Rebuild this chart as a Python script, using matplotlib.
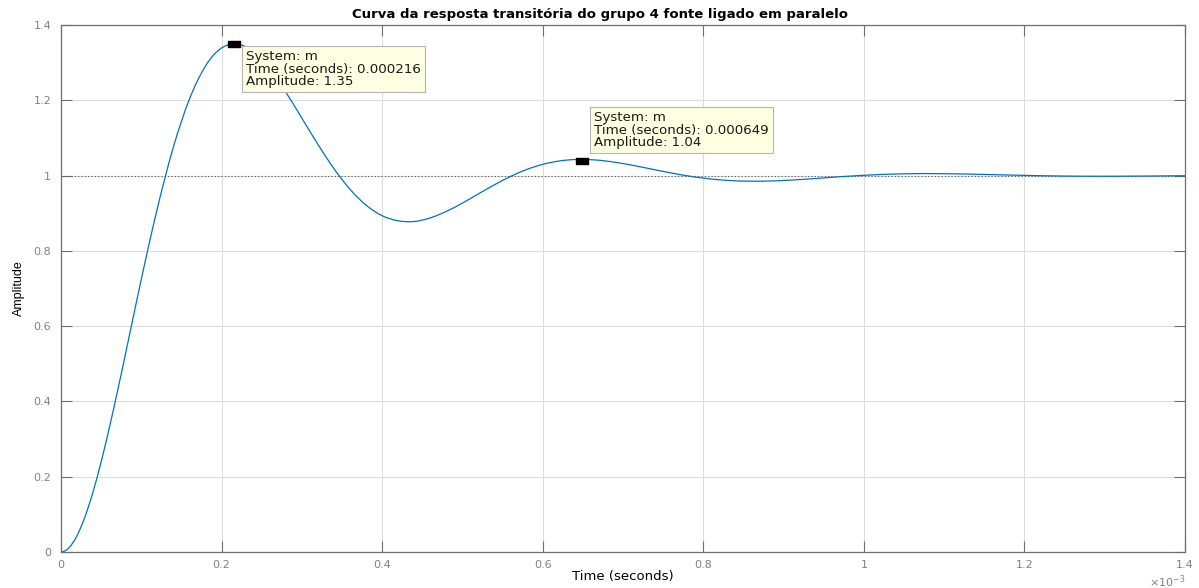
import numpy as np
import matplotlib.pyplot as plt
from matplotlib.path import Path
from matplotlib.patches import PathPatch

# Step response samples (time in ms, amplitude)
time_ms = [0.00, 0.01, 0.02, 0.03, 0.04, 0.05, 0.06, 0.07, 0.08, 0.09,
           0.10, 0.11, 0.12, 0.14, 0.16, 0.18, 0.19, 0.20, 0.21, 0.216,
           0.22, 0.23, 0.24, 0.25, 0.26, 0.27, 0.28, 0.30, 0.32, 0.34,
           0.36, 0.38, 0.40, 0.42, 0.44, 0.46, 0.48, 0.50, 0.52, 0.54,
           0.56, 0.58, 0.60, 0.62, 0.64, 0.66, 0.68, 0.70, 0.72, 0.74,
           0.76, 0.78, 0.80, 0.82, 0.84, 0.86, 0.88, 0.90, 0.92, 0.94,
           0.96, 0.98, 1.00, 1.05, 1.10, 1.15, 1.20, 1.25, 1.30, 1.35,
           1.40]
amplitude = [0.0000, 0.0115, 0.0438, 0.0946, 0.1609, 0.2398, 0.3285, 0.4240, 0.5234, 0.6246,
             0.7248, 0.8213, 0.9131, 1.0760, 1.2035, 1.2912, 1.3203, 1.3389, 1.3483, 1.3506,
             1.3494, 1.3424, 1.3284, 1.3084, 1.2831, 1.2541, 1.2217, 1.1525, 1.0828, 1.0182,
             0.9634, 0.9213, 0.8934, 0.8798, 0.8780, 0.8876, 0.9048, 0.9270, 0.9515, 0.9757,
             0.9978, 1.0161, 1.0298, 1.0386, 1.0426, 1.0422, 1.0383, 1.0319, 1.0239, 1.0154,
             1.0069, 0.9994, 0.9933, 0.9888, 0.9860, 0.9850, 0.9854, 0.9870, 0.9894, 0.9922,
             0.9953, 0.9982, 1.0007, 1.0047, 1.0050, 1.0030, 1.0005, 0.9987, 0.9982, 0.9987,
             0.9996]

# Data tips
tip_time_s = [0.000216, 0.000649]
tip_amp = [1.35, 1.04]
tip_system = ['m', 'm']

x_ticks = [0, 0.2, 0.4, 0.6, 0.8, 1.0, 1.2, 1.4]
x_tick_labels = ['0', '0.2', '0.4', '0.6', '0.8', '1', '1.2', '1.4']
y_ticks = [0, 0.2, 0.4, 0.6, 0.8, 1.0, 1.2, 1.4]
y_tick_labels = ['0', '0.2', '0.4', '0.6', '0.8', '1', '1.2', '1.4']

plt.rcParams['font.family'] = ['DejaVu Sans']

fig = plt.figure(figsize=(11.99, 5.88), dpi=100)
ax = fig.add_axes([0.0509, 0.0612, 0.9374, 0.8963])

# smooth curve through the samples (cubic Hermite segments)
x = np.array(time_ms)
y = np.array(amplitude)
m = np.gradient(y, x, edge_order=2)
verts = [(x[0], y[0])]
codes = [Path.MOVETO]
for i in range(len(x) - 1):
    h = x[i + 1] - x[i]
    verts += [(x[i] + h / 3, y[i] + m[i] * h / 3),
              (x[i + 1] - h / 3, y[i + 1] - m[i + 1] * h / 3),
              (x[i + 1], y[i + 1])]
    codes += [Path.CURVE4] * 3
ax.add_patch(PathPatch(Path(verts, codes), fill=False, edgecolor='#0072BD',
                       lw=0.9, zorder=3))

ax.axhline(1.0, color='#555555', ls=(0, (1, 2)), lw=0.8, zorder=2)

axis_col = '#6e6e6e'
ax.set_xlim(0, 1.4)
ax.set_ylim(0, 1.4)
ax.set_xticks(x_ticks)
ax.set_xticklabels(x_tick_labels)
ax.set_yticks(y_ticks)
ax.set_yticklabels(y_tick_labels)
ax.grid(True, color='#dcdcdc', lw=0.8)
ax.set_axisbelow(True)
ax.tick_params(direction='in', length=8, width=0.8, color=axis_col,
               labelcolor='#808080', labelsize=8, top=True, right=True)
ax.tick_params(axis='x', pad=6)
ax.tick_params(axis='y', pad=7)
for sp in ax.spines.values():
    sp.set_color(axis_col)
    sp.set_linewidth(0.9)

ax.set_title('Curva da resposta transitória do grupo 4 fonte ligado em paralelo',
             fontsize=9.5, fontweight='bold', pad=5, x=0.4795)
ax.set_xlabel('Time (seconds)', fontsize=9.5, labelpad=0)
ax.set_ylabel('Amplitude', fontsize=9,
              family=['Liberation Sans Narrow', 'Liberation Sans'], labelpad=6)
ax.text(1.0, -0.04, r'$\times10^{-3}$', transform=ax.transAxes, ha='right',
        va='top', fontsize=8, color='#808080')

# data tips: small black marker plus a boxed label
tip_marker = [(-1, -0.55), (1, -0.55), (1, 0.55), (-1, 0.55), (-1, -0.55)]
offsets = [(8.4, -4.5), (8.6, 8.0)]
valigns = ['top', 'bottom']
for t, a, s, off, va in zip(tip_time_s, tip_amp, tip_system, offsets, valigns):
    ax.plot(t * 1e3, a, marker=tip_marker, ms=8.5, color='black', zorder=5)
    label = f'System: {s}\nTime (seconds): {t:g}\nAmplitude: {a:g}'
    ax.annotate(label, xy=(t * 1e3, a), xytext=off,
                textcoords='offset points', ha='left', va=va, fontsize=9.6,
                linespacing=0.95, zorder=6, color='#1a1a1a',
                bbox=dict(boxstyle='square,pad=0.3', fc='#ffffe1', ec='#b4b4b4', lw=0.8))

fig.savefig('out.png', dpi=100)
